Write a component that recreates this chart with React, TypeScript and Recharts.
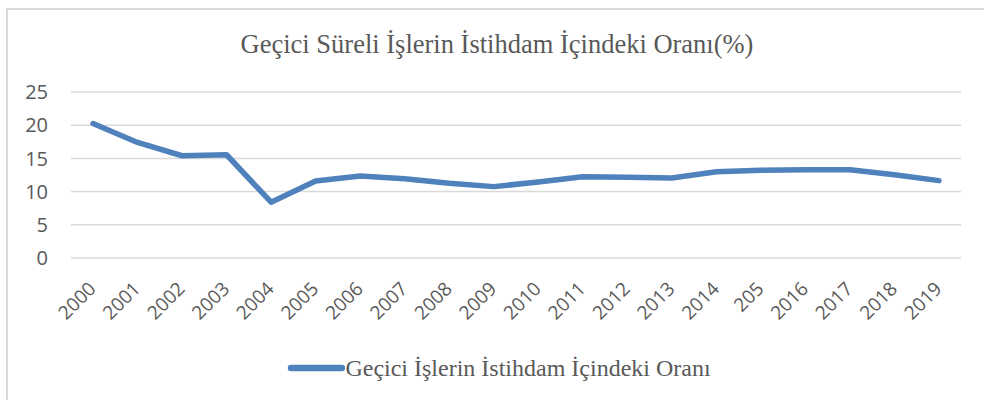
import * as React from "react";
import { CartesianGrid, Line, LineChart, XAxis, YAxis } from "recharts";

// Yıllar ve oranlar
const years = [
  "2000", "2001", "2002", "2003", "2004", "2005", "2006", "2007", "2008", "2009",
  "2010", "2011", "2012", "2013", "2014", "205", "2016", "2017", "2018", "2019",
];
const rates = [
  20.25, 17.4, 15.4, 15.55, 8.4, 11.6, 12.35, 11.95, 11.25, 10.75,
  11.45, 12.25, 12.15, 12.05, 13.0, 13.2, 13.3, 13.3, 12.55, 11.65,
];
const yTicks = [0, 5, 10, 15, 20, 25];

const TITLE = "Geçici Süreli İşlerin İstihdam İçindeki Oranı(%)";
const SERIES = "Geçici İşlerin İstihdam İçindeki Oranı";

const LINE_COLOR = "#4F81BD";
const TEXT_COLOR = "#595959";
const SANS = "'Open Sans', 'Noto Sans', sans-serif";
const SERIF = "'Liberation Serif', 'Times New Roman', serif";

const data = years.map((y, i) => ({ year: y, value: rates[i] }));

function XTick(props: { x?: number; y?: number; payload?: { value: string } }) {
  const { x = 0, y = 0, payload } = props;
  return (
    <text
      transform={`translate(${x + 4},${y + 32}) rotate(-45)`}
      textAnchor="end"
      fill={TEXT_COLOR}
      fontSize={19}
      fontFamily={SANS}
    >
      {payload?.value}
    </text>
  );
}

function LegendRow() {
  return (
    <div
      style={{
        position: "absolute",
        left: 7,
        top: 353,
        width: 984,
        height: 30,
        display: "flex",
        justifyContent: "center",
        alignItems: "center",
        fontFamily: SERIF,
        fontSize: 24,
        color: TEXT_COLOR,
      }}
    >
      <svg width={58} height={10}>
        <line x1={4} y1={5} x2={55} y2={5} stroke={LINE_COLOR} strokeWidth={6.5} strokeLinecap="round" />
      </svg>
      <span>{SERIES}</span>
    </div>
  );
}

export default function App() {
  return (
    <div style={{ position: "absolute", left: 0, top: 0, width: 984, height: 400, overflow: "hidden", background: "#fff" }}>
      <div
        style={{
          position: "absolute",
          left: 6,
          top: 8,
          width: 1000,
          height: 420,
          border: "2px solid #d9d9d9",
          boxSizing: "border-box",
        }}
      />
      <div
        style={{
          position: "absolute",
          left: 0,
          top: 28,
          width: 994,
          textAlign: "center",
          fontFamily: SERIF,
          fontSize: 26.5,
          color: TEXT_COLOR,
          lineHeight: "32px",
        }}
      >
        {TITLE}
      </div>
      <div style={{ position: "absolute", left: 0, top: 0 }}>
        <LineChart
          width={984}
          height={400}
          data={data}
          margin={{ top: 92, right: 23, left: 0, bottom: 112 }}
        >
          <CartesianGrid vertical={false} stroke="#d9d9d9" strokeWidth={1.5} />
          <XAxis
            dataKey="year"
            height={30}
            axisLine={false}
            tickLine={false}
            tickSize={0}
            tickMargin={0}
            interval={0}
            padding={{ left: 22, right: 22 }}
            tick={<XTick />}
          />
          <YAxis
            width={71}
            domain={[0, 25]}
            ticks={yTicks}
            interval={0}
            axisLine={false}
            tickLine={false}
            tickSize={0}
            tickMargin={23}
            tick={{ fill: TEXT_COLOR, fontSize: 20, fontFamily: SANS }}
          />
          <Line
            type="linear"
            dataKey="value"
            name={SERIES}
            stroke={LINE_COLOR}
            strokeWidth={5.5}
            dot={false}
            strokeLinejoin="round"
            strokeLinecap="round"
            isAnimationActive={false}
          />
        </LineChart>
      </div>
      <LegendRow />
    </div>
  );
}
